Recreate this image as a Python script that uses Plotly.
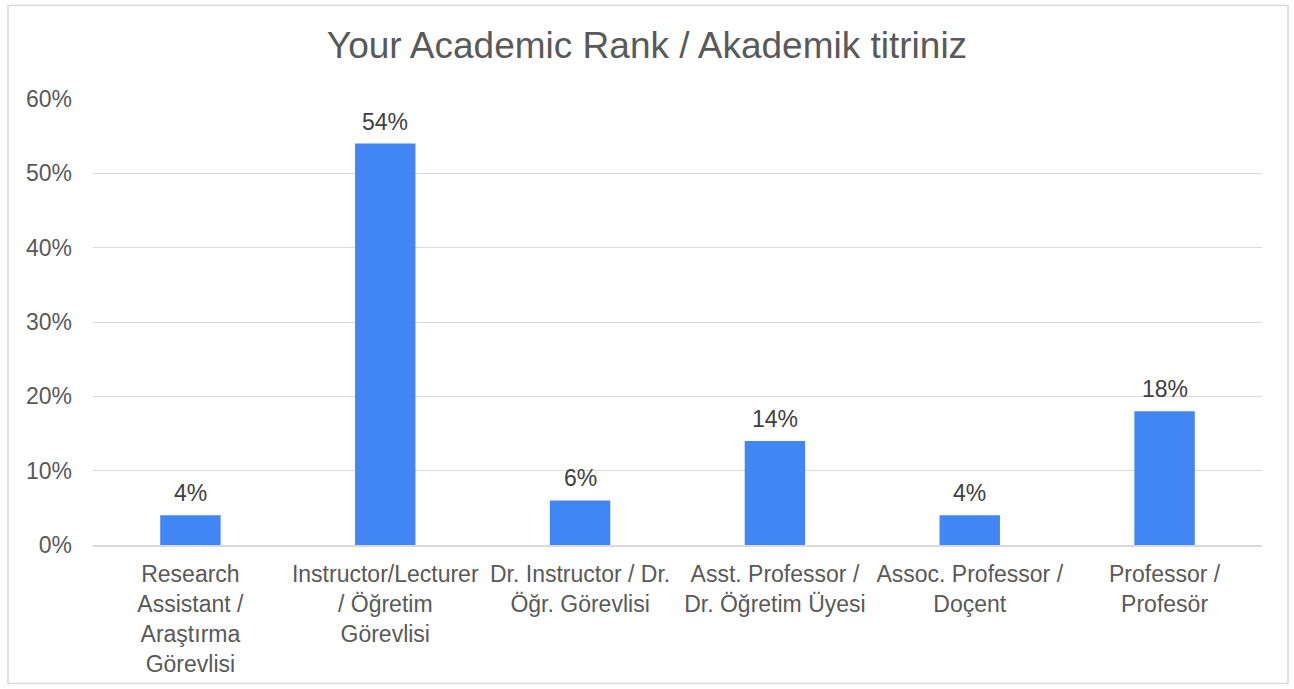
import plotly.graph_objects as go

categories = [
    "Research<br>Assistant /<br>Araştırma<br>Görevlisi",
    "Instructor/Lecturer<br>/ Öğretim<br>Görevlisi",
    "Dr. Instructor / Dr.<br>Öğr. Görevlisi",
    "Asst. Professor /<br>Dr. Öğretim Üyesi",
    "Assoc. Professor /<br>Doçent",
    "Professor /<br>Profesör",
]
values = [0.04, 0.54, 0.06, 0.14, 0.04, 0.18]
labels = ["4%", "54%", "6%", "14%", "4%", "18%"]
tick_vals = [0, 0.1, 0.2, 0.3, 0.4, 0.5, 0.6]
tick_text = ["0%", "10%", "20%", "30%", "40%", "50%", "60%"]

FONT = "Liberation Sans, Arial"
W, H = 1294, 689
L, R, T, B = 93, 32, 99, 142

fig = go.Figure(go.Bar(
    x=categories, y=values,
    marker=dict(color="#4285F4", line=dict(width=0)),
    hoverinfo="skip",
))

for c, v, t in zip(categories, values, labels):
    fig.add_annotation(x=c, y=v, text=t, showarrow=False, xref="x", yref="y",
                       yanchor="bottom", yshift=7,
                       font=dict(size=23, color="#404040", family=FONT))

pw, ph = W - L - R, H - T - B
fig.add_shape(type="rect", xref="paper", yref="paper",
              x0=(8 - L) / pw, x1=(1288 - L) / pw,
              y0=(H - B - 686) / ph, y1=(H - B - 5) / ph,
              line=dict(color="#d9d9d9", width=1.5), fillcolor="rgba(0,0,0,0)", layer="below")

fig.update_layout(
    width=W, height=H,
    margin=dict(l=L, r=R, t=T, b=B),
    paper_bgcolor="white", plot_bgcolor="white",
    bargap=0.69,
    showlegend=False,
    title=dict(text="Your Academic Rank / Akademik titriniz", x=0.5, xanchor="center",
               y=1 - 45 / H, yanchor="middle",
               font=dict(size=37, color="#595959", family=FONT)),
    font=dict(family=FONT, size=23, color="#595959"),
)
fig.update_yaxes(range=[0, 0.6], tickvals=tick_vals, ticktext=tick_text,
                 showgrid=True, gridcolor="#d9d9d9", gridwidth=1.3, zeroline=False,
                 ticks="", ticklabelstandoff=20, tickfont=dict(size=23, color="#595959"),
                 showline=False)
fig.update_xaxes(showline=True, linecolor="#d9d9d9", linewidth=1.5, ticks="",
                 ticklabelstandoff=8,
                 tickfont=dict(size=23, color="#595959"), tickangle=0)

fig.write_html("out.html", config={"displayModeBar": False},
               post_script="document.body.style.margin='0';document.body.style.overflow='hidden';")
